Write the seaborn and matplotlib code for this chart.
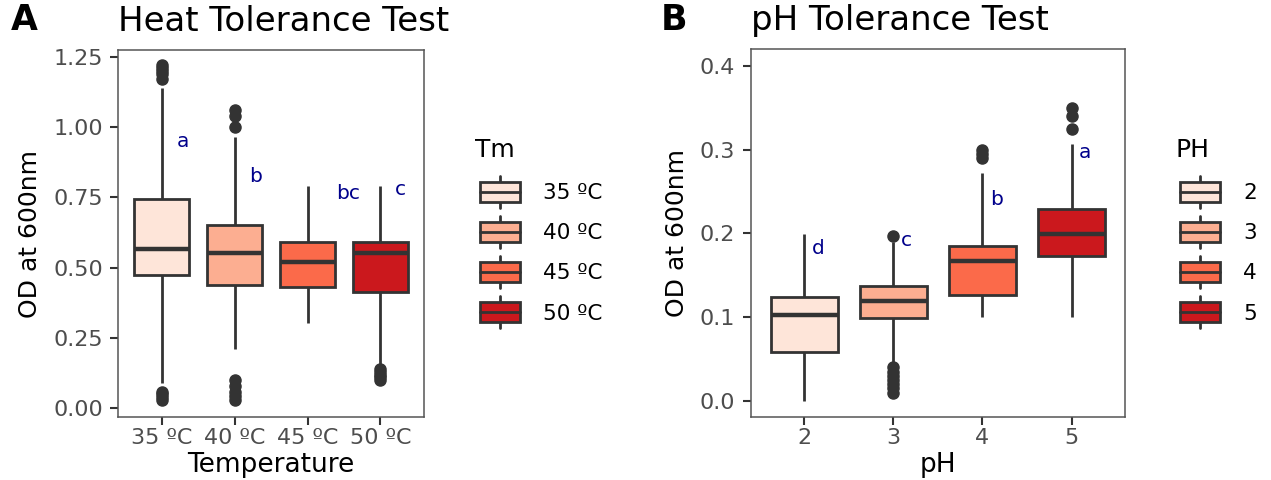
import numpy as np
import pandas as pd
import matplotlib
matplotlib.use("Agg")
import matplotlib.pyplot as plt
import seaborn as sns
from matplotlib.patches import Rectangle, Patch
from matplotlib.lines import Line2D
from matplotlib.legend_handler import HandlerBase

# ---------------- data ----------------
heat_categories = ["35 ºC", "40 ºC", "45 ºC", "50 ºC"]
heat_q1 = [0.475, 0.439, 0.433, 0.414]
heat_median = [0.567, 0.554, 0.520, 0.554]
heat_q3 = [0.745, 0.651, 0.593, 0.593]
heat_whisker_low = [0.09, 0.21, 0.303, 0.155]
heat_whisker_high = [1.14, 0.965, 0.791, 0.791]
heat_outliers = [
    [0.03, 0.04, 0.05, 0.06, 1.17, 1.19, 1.20, 1.21, 1.22],
    [0.03, 0.045, 0.06, 0.08, 0.10, 1.00, 1.04, 1.06],
    [],
    [0.10, 0.11, 0.12, 0.13, 0.14],
]
heat_letters = ["a", "b", "bc", "c"]
heat_letter_x = [0.29, 1.29, 2.55, 3.27]
heat_letter_y = [0.95, 0.826, 0.765, 0.78]
heat_yticks = [0.00, 0.25, 0.50, 0.75, 1.00, 1.25]

ph_categories = ["2", "3", "4", "5"]
ph_q1 = [0.058, 0.099, 0.126, 0.173]
ph_median = [0.103, 0.119, 0.167, 0.199]
ph_q3 = [0.124, 0.137, 0.185, 0.229]
ph_whisker_low = [0.0, 0.045, 0.10, 0.10]
ph_whisker_high = [0.199, 0.19, 0.272, 0.307]
ph_outliers = [
    [],
    [0.01, 0.015, 0.02, 0.025, 0.03, 0.035, 0.04, 0.197],
    [0.29, 0.295, 0.30],
    [0.325, 0.34, 0.35],
]
ph_letters = ["d", "c", "b", "a"]
ph_letter_x = [0.157, 1.146, 2.158, 3.153]
ph_letter_y = [0.182, 0.192, 0.241, 0.297]
ph_yticks = [0.0, 0.1, 0.2, 0.3, 0.4]

reds = ["#FEE5D9", "#FCAE91", "#FB6A4A", "#CB181D"]


def build_long(cats, q1, med, q3, lo, hi, outs, rep=20):
    rows = []
    for c, a, m, b, l, h, o in zip(cats, q1, med, q3, lo, hi, outs):
        vals = list(o) + [l] + [a] * rep + [m] * rep + [b] * rep + [h]
        rows += [(c, v) for v in vals]
    return pd.DataFrame(rows, columns=["group", "od"])


heat_df = build_long(heat_categories, heat_q1, heat_median, heat_q3,
                     heat_whisker_low, heat_whisker_high, heat_outliers)
ph_df = build_long(ph_categories, ph_q1, ph_median, ph_q3,
                   ph_whisker_low, ph_whisker_high, ph_outliers)

# ---------------- style ----------------
sns.set_theme(style="white")
plt.rcParams['font.family'] = ['DejaVu Sans']
plt.rcParams['text.color'] = 'black'
plt.rcParams['axes.labelcolor'] = 'black'

LINE = "#333333"


class BoxKey(HandlerBase):
    # fixed key size in points: whisker span 23pt, box 14.4pt, width from legend
    def create_artists(self, legend, orig_handle, xdescent, ydescent,
                       width, height, fontsize, trans):
        fc = orig_handle.get_facecolor()
        x0, y0 = -xdescent, -ydescent
        cx = x0 + width / 2
        cy = y0 + height / 2
        half_w = 11.5
        half_b = 7.2
        wl = Line2D([cx, cx], [cy - half_w, cy - half_b], color=LINE, lw=2, transform=trans)
        wh = Line2D([cx, cx], [cy + half_b, cy + half_w], color=LINE, lw=2, transform=trans)
        rect = Rectangle((x0, cy - half_b), width, 2 * half_b, facecolor=fc,
                         edgecolor=LINE, lw=2, transform=trans)
        med = Line2D([x0, x0 + width], [cy, cy], color=LINE, lw=2, transform=trans)
        return [wl, wh, rect, med]


fig = plt.figure(figsize=(12.71, 4.8), dpi=100)
axA = fig.add_axes([0.0929, 0.131, 0.2408, 0.7646])
axB = fig.add_axes([0.5906, 0.132, 0.2946, 0.765])

flier = dict(marker='o', markersize=8, markerfacecolor=LINE, markeredgecolor=LINE)


def draw(ax, df, cats, yticks, fmt, ylim, letters, lx, ly, xlabel, title,
         legend_title, leg_x, title_x):
    sns.boxplot(data=df, x="group", y="od", hue="group", order=cats,
                hue_order=cats, palette=reds, width=0.75, dodge=False,
                legend=False, linecolor=LINE, linewidth=2, showcaps=False,
                saturation=1, whis=1.5, flierprops=flier,
                medianprops=dict(linewidth=3.2, color=LINE), ax=ax)
    ax.set_xlim(-0.6, 3.6)
    ax.set_ylim(*ylim)
    ax.set_yticks(yticks)
    ax.set_yticklabels([fmt.format(v) for v in yticks])
    ax.tick_params(axis='both', bottom=True, left=True, length=6, width=1.5,
                   color=LINE, labelsize=16, labelcolor="#4D4D4D")
    ax.tick_params(axis='y', pad=5)
    ax.tick_params(axis='x', pad=2)
    for s in ax.spines.values():
        s.set_color("#555555")
        s.set_linewidth(1.1)
    ax.set_xlabel(xlabel, fontsize=19, color="black", labelpad=3)
    ax.set_ylabel("OD at 600nm", fontsize=18, color="black", labelpad=8)
    ax.set_title(title, loc='left', fontsize=24.5, pad=14, color="black")
    for t, x, y in zip(letters, lx, ly):
        ax.text(x, y, t, ha='center', va='center', color="#00008B", fontsize=14.5)
    handles = [Patch(facecolor=c) for c in reds]
    leg = ax.legend(handles, cats, handler_map={Patch: BoxKey()}, loc="upper left",
                    bbox_to_anchor=(leg_x, 1 - 179 / 480), bbox_transform=fig.transFigure,
                    frameon=False, fontsize=15.5, handlelength=1.86, handleheight=1.49,
                    labelspacing=0.65, handletextpad=1.07, borderpad=0,
                    borderaxespad=0)
    for t in leg.get_texts():
        t.set_color("black")
    fig.text(title_x, 1 - 157 / 480, legend_title, fontsize=18, va='baseline',
             color="black")


draw(axA, heat_df, heat_categories, heat_yticks, "{:.2f}", (-0.031, 1.274),
     heat_letters, heat_letter_x, heat_letter_y, "Temperature",
     "Heat Tolerance Test", "Tm", 480 / 1271, 475 / 1271)
draw(axB, ph_df, ph_categories, ph_yticks, "{:.1f}", (-0.0187, 0.4195),
     ph_letters, ph_letter_x, ph_letter_y, "pH",
     "pH Tolerance Test", "PH", 1180 / 1271, 1175 / 1271)

fig.text(11 / 1271, 1 - 30 / 480, "A", fontsize=25, fontweight='bold', va='baseline')
fig.text(661 / 1271, 1 - 30 / 480, "B", fontsize=25, fontweight='bold', va='baseline')

fig.savefig("out.png", dpi=100)
